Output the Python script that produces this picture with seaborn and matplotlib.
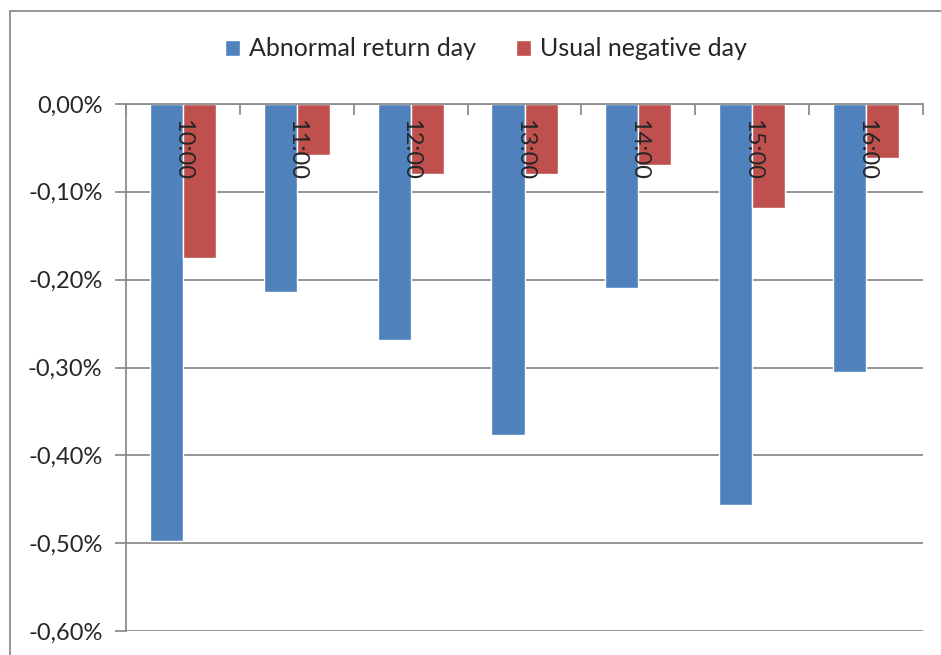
import pandas as pd
import numpy as np
import matplotlib
matplotlib.use('Agg')
import matplotlib.pyplot as plt
from matplotlib.ticker import FuncFormatter
from matplotlib.patches import Rectangle
import seaborn as sns

# Values (in percent)
hours = ['10:00', '11:00', '12:00', '13:00', '14:00', '15:00', '16:00']
abnormal = [-0.497, -0.214, -0.269, -0.377, -0.210, -0.456, -0.305]
usual = [-0.175, -0.058, -0.080, -0.080, -0.069, -0.118, -0.062]
series = ['Abnormal return day', 'Usual negative day']
colors = ['#4F81BD', '#C0504D']

df = pd.DataFrame({
    'hour': hours * 2,
    'value': abnormal + usual,
    'series': [series[0]] * len(hours) + [series[1]] * len(hours),
})

sns.set_style('white')
plt.rcParams['font.family'] = ['Lato', 'DejaVu Sans']

fig = plt.figure(figsize=(9.41, 6.55), dpi=100)
ax = fig.add_axes([126 / 941, 24 / 655, (923 - 126) / 941, (631 - 104) / 655])

sns.barplot(data=df, x='hour', y='value', hue='series', hue_order=series,
            palette=colors, width=0.58, saturation=1, ax=ax, legend=True)

ax.set_ylim(-0.6, 0)
ax.set_xlim(-0.5, len(hours) - 0.5)
ax.set_yticks(np.arange(-0.6, 0.01, 0.1))
ax.yaxis.set_major_formatter(FuncFormatter(lambda v, p: f'{v:.2f}%'.replace('.', ',').replace('-0,00', '0,00')))
ax.grid(axis='y', color='#8C8C8C', linewidth=1.3)
ax.set_axisbelow(True)

# category axis sits at zero (top), ticks between categories
ax.xaxis.tick_top()
ax.set_xticks(np.arange(-0.5, len(hours), 1.0))
ax.set_xticklabels([])
ax.tick_params(axis='x', direction='in', length=8, width=1.3, color='#8C8C8C', top=True, bottom=False)
ax.tick_params(axis='y', direction='out', length=8, width=1.3, color='#8C8C8C', labelsize=17, left=True, pad=9)
ax.set_xlabel('')
ax.set_ylabel('')

for side in ['right', 'bottom']:
    ax.spines[side].set_visible(False)
for side in ['top', 'left']:
    ax.spines[side].set_color('#8C8C8C')
    ax.spines[side].set_linewidth(1.3)

# rotated category labels under the zero line
for i, h in enumerate(hours):
    ax.annotate(h, xy=(i, 0), xytext=(0, -11), textcoords='offset points',
                rotation=-90, ha='center', va='top', fontsize=17)

leg = ax.legend(loc='center', bbox_to_anchor=(486 / 941, 1 - 49 / 655), bbox_transform=fig.transFigure,
                ncol=2, frameon=False, fontsize=18, handlelength=0.6, handleheight=0.6,
                handletextpad=0.35, columnspacing=1.6)

# chart area border
fig.patches.append(Rectangle((10 / 941, -0.1), 1.2, (655 - 11) / 655 + 0.1, transform=fig.transFigure,
                             fill=False, edgecolor='#8C8C8C', linewidth=1.3))

fig.savefig('out.png', dpi=100)
